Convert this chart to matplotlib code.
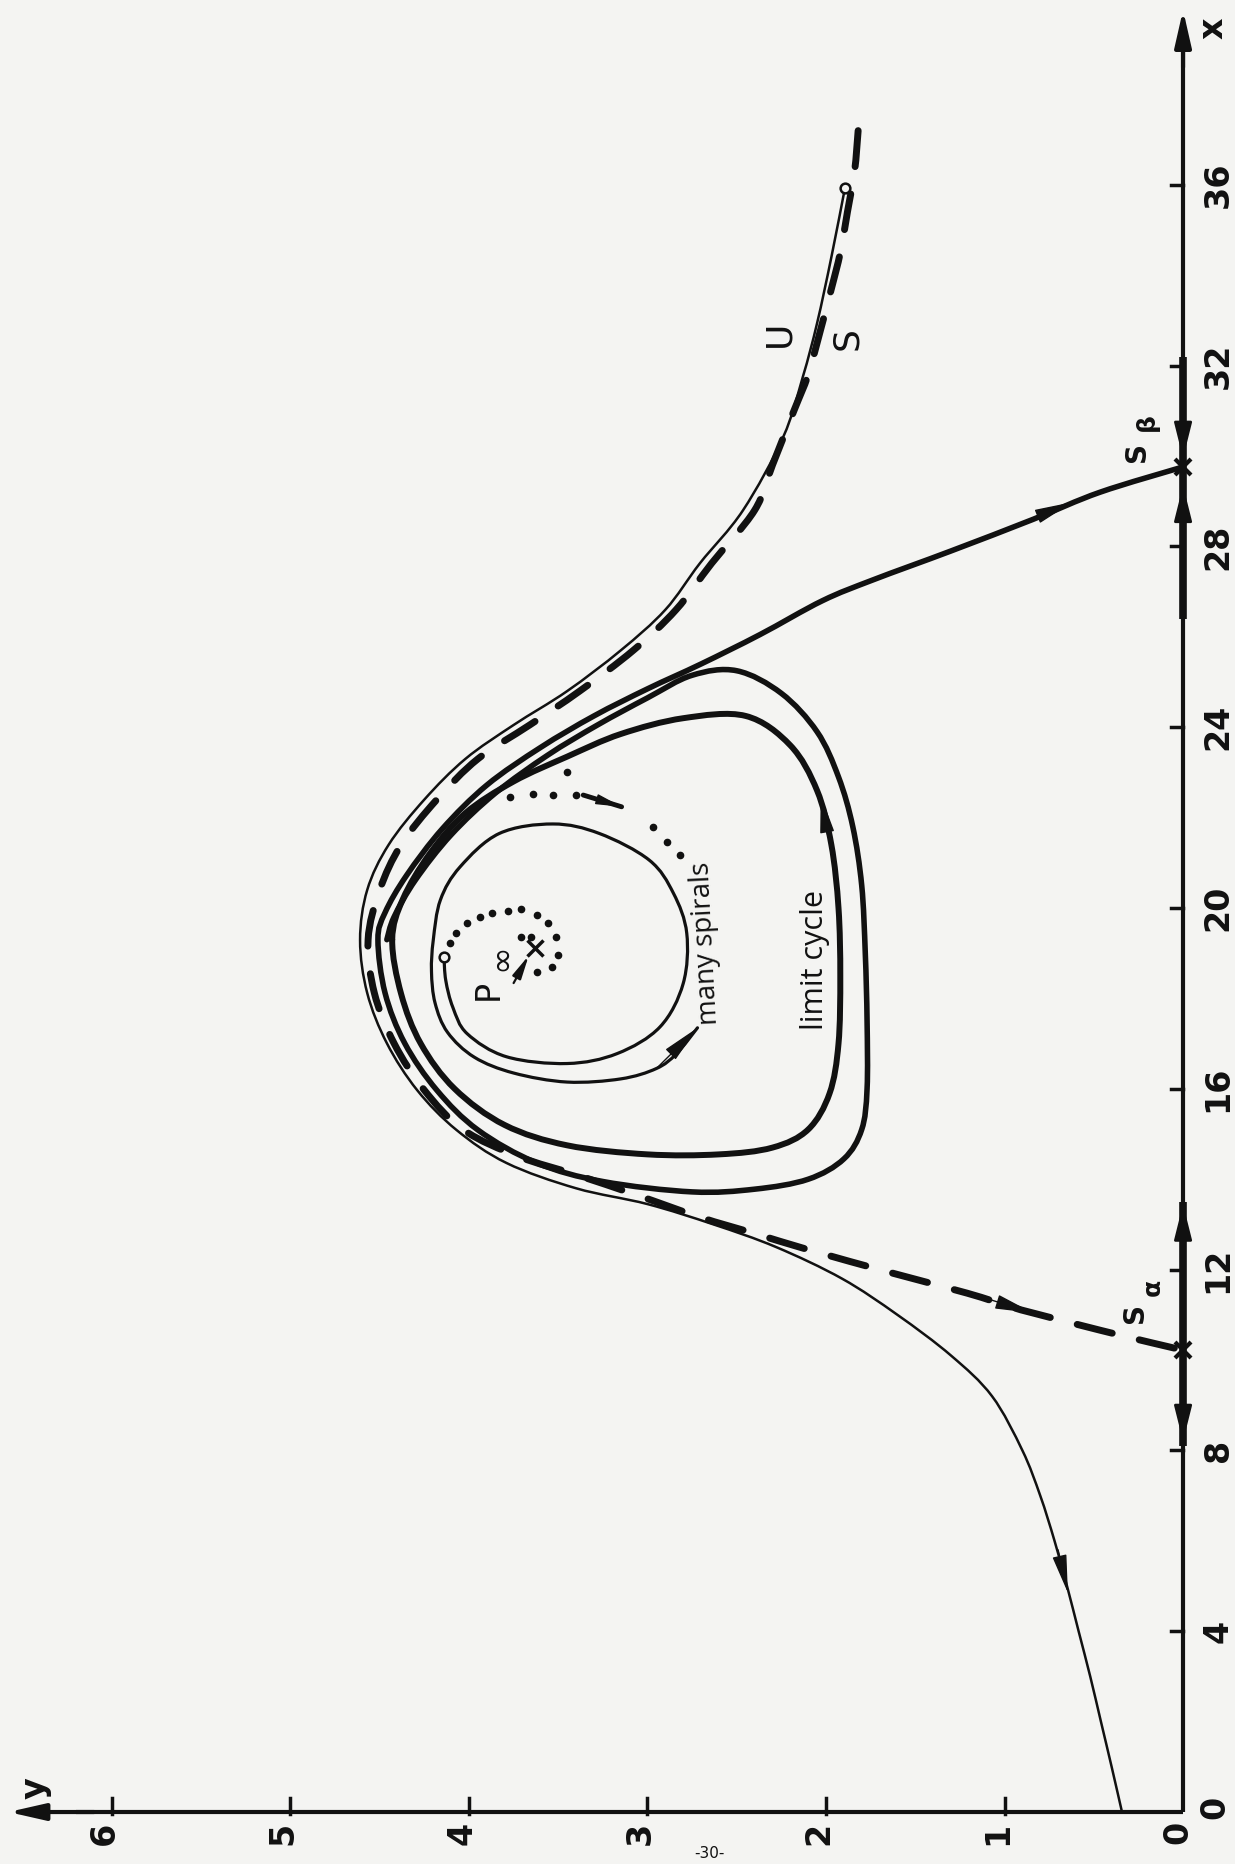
import numpy as np
import matplotlib
matplotlib.use("Agg")
import matplotlib.pyplot as plt
from matplotlib.patches import ArrowStyle, PathPatch
from matplotlib.path import Path

plt.rcParams['font.family'] = ['DejaVu Sans']
plt.rcParams['lines.scale_dashes'] = False

# ---------------- data (chart coordinates: x runs up the page, y runs to the left) ----------------
x_ticks = [4, 8, 12, 16, 20, 24, 28, 32, 36]
y_ticks = [1, 2, 3, 4, 5, 6]

# thin solid trajectory U (from the y-axis, round the hump, to the small circle)
u_y = [0.342, 0.40, 0.46, 0.52, 0.585, 0.65, 0.72, 0.80, 0.90, 1.07, 1.30, 1.60, 1.91, 2.28, 2.63,
       3.00, 3.40, 3.79, 4.07, 4.29, 4.46, 4.57, 4.61, 4.57, 4.45, 4.25, 4.02, 3.75, 3.45, 3.15,
       2.9, 2.706, 2.465, 2.24, 2.13, 2.05, 1.97, 1.894]
u_x = [0.0, 1.0, 2.0, 3.0, 4.0, 5.0, 6.0, 7.0, 8.0, 9.2, 10.1, 11.0, 11.8, 12.5, 13.0,
       13.45, 13.8, 14.36, 15.09, 15.97, 17.01, 18.12, 19.29, 20.4, 21.4, 22.4, 23.3, 24.05, 24.8, 25.7,
       26.6, 27.63, 28.8, 30.42, 31.75, 32.94, 34.4, 35.93]

# dashed separatrix S (ends at S_alpha)
s_y = [1.82, 1.84, 1.88, 1.92, 1.97, 2.03, 2.10, 2.18, 2.30, 2.40, 2.64, 2.84, 3.08, 3.38, 3.66,
       3.95, 4.18, 4.38, 4.50, 4.565, 4.53, 4.42, 4.25, 4.03, 3.72, 3.40, 3.06, 2.706, 2.40,
       2.09, 1.625, 1.21, 0.958, 0.84, 0.465, 0.174, 0.0]
s_x = [37.2, 36.3, 35.4, 34.5, 33.7, 32.8, 31.8, 31.0, 29.8, 28.8, 27.63, 26.6, 25.7, 24.8, 24.05,
       23.3, 22.4, 21.4, 20.4, 19.3, 18.12, 17.01, 15.97, 15.09, 14.5, 14.1, 13.65, 13.16, 12.8,
       12.43, 11.92, 11.48, 11.17, 11.04, 10.66, 10.38, 10.22]

# thick trajectory leaving S_beta and winding onto the limit cycle from outside
b_y = [0.0, 0.465, 0.84, 1.30, 1.737, 2.02, 2.37, 2.70, 3.00, 3.30, 3.60, 3.90, 4.15, 4.35, 4.47,
       4.51, 4.47, 4.36, 4.18, 3.95, 3.62, 3.25, 2.75, 2.40, 2.10, 1.90, 1.80, 1.77, 1.77, 1.78, 1.80,
       1.85, 1.93, 2.05, 2.25, 2.50, 2.75, 3.00, 3.28, 3.56, 3.85, 4.10, 4.30, 4.42, 4.46]
b_x = [29.76, 29.2, 28.6, 27.9, 27.26, 26.8, 26.05, 25.4, 24.85, 24.25, 23.55, 22.72, 21.75, 20.72, 19.9,
       19.3, 18.12, 17.01, 15.97, 15.09, 14.36, 13.95, 13.72, 13.78, 14.0, 14.45, 15.1, 16.0, 17.5, 19.0, 20.5,
       21.8, 22.9, 23.9, 24.75, 25.25, 25.15, 24.65, 24.05, 23.38, 22.55, 21.62, 20.62, 19.8, 19.3]

# limit cycle (thick, closed)
lc_y = [4.43, 4.38, 4.27, 4.08, 3.80, 3.45, 3.00, 2.60, 2.30, 2.10, 1.98, 1.93, 1.92, 1.93, 1.97,
        2.05, 2.20, 2.45, 2.80, 3.15, 3.45, 3.75, 4.02, 4.22, 4.37, 4.43]
lc_x = [19.3, 18.1, 17.0, 16.0, 15.2, 14.75, 14.55, 14.55, 14.7, 15.1, 15.9, 17.0, 18.5, 20.0, 21.4,
        22.6, 23.6, 24.25, 24.2, 23.85, 23.35, 22.8, 22.1, 21.2, 20.2, 19.3]

# thin spiral from the small circle near P
sp_y = [4.14, 4.13, 4.09, 4.01, 3.79, 3.45, 3.17, 2.93, 2.80, 2.78, 2.855, 2.99, 3.27, 3.53, 3.83,
        4.05, 4.16, 4.20, 4.21, 4.19, 4.12, 3.97, 3.75, 3.45, 3.15, 2.95, 2.837, 2.72]
sp_x = [18.92, 18.4, 17.8, 17.22, 16.71, 16.56, 16.78, 17.37, 18.33, 19.44, 20.33, 21.06, 21.65, 21.86,
        21.65, 20.91, 20.18, 19.29, 18.6, 17.9, 17.25, 16.7, 16.35, 16.15, 16.22, 16.45, 16.78, 17.35]

# dotted "many spirals" hint
md_y = [3.77, 3.64, 3.53, 3.40, 3.45, 2.97, 2.89, 2.82]
md_x = [22.46, 22.53, 22.5, 22.5, 23.0, 21.8, 21.47, 21.17]
md_arrow = ((3.36, 22.5), (3.145, 22.24))

# small dotted spiral around the fixed point P
pd_y = [4.106, 4.07, 4.01, 3.94, 3.87, 3.78, 3.71, 3.62, 3.56, 3.51, 3.50, 3.535, 3.62, 3.71, 3.65]
pd_x = [19.22, 19.45, 19.67, 19.8, 19.89, 19.93, 19.98, 19.85, 19.67, 19.36, 18.96, 18.7, 18.58, 19.36, 19.36]
p_point = (3.63, 19.12)
p_arrow = ((3.75, 18.34), (3.665, 18.95))

# saddles on the x-axis and the thick stretches with arrows
s_alpha_x = 10.22
s_beta_x = 29.76
axis_thick = [(8.1, 13.5), (26.4, 32.2)]
axis_arrows = [(9.2, 8.2), (12.4, 13.45), (31.0, 29.95), (28.3, 29.35)]

# arrows on curves: (tail, tip) in (y, x)
curve_arrows = [((0.70, 5.8), (0.645, 4.85)),
                ((1.10, 11.36), (0.84, 11.04)),
                ((0.98, 28.4), (0.62, 28.98)),
                ((1.99, 21.6), (2.03, 22.5)),
                ((2.95, 16.45), (2.72, 17.35))]

ink = '#111111'
bg = '#f4f4f2'

fig = plt.figure(figsize=(12.35, 18.64), dpi=100, facecolor=bg)
ax = fig.add_axes([0, 0, 1, 1])
ax.set_facecolor(bg)
ax.axis('off')
ax.set_xlim(6.627, -0.291)
ax.set_ylim(-1.150, 40.09)


def smooth(ys, xs, closed=False):
    """Smooth cubic Bezier path through the read points (drawn by matplotlib)."""
    p = np.column_stack([ys, xs]).astype(float)
    n = len(p)
    verts = [p[0]]
    codes = [Path.MOVETO]
    for i in range(n - 1):
        p0 = p[i - 1] if i > 0 else (p[-2] if closed else p[i])
        p1, p2 = p[i], p[i + 1]
        p3 = p[i + 2] if i + 2 < n else (p[1] if closed else p[i + 1])
        verts += [p1 + (p2 - p0) / 6.0, p2 - (p3 - p1) / 6.0, p2]
        codes += [Path.CURVE4] * 3
    return Path(verts, codes)


def draw(ys, xs, lw, closed=False, dashes=None):
    patch = PathPatch(smooth(ys, xs, closed), fill=False, edgecolor=ink, lw=lw,
                      joinstyle='round', capstyle='round')
    if dashes is not None:
        patch.set_linestyle((0, dashes))
    ax.add_patch(patch)


def head(tail, tip, ms=10, hl=2.4, hw=0.45, lw=1.0):
    ax.annotate('', xy=tip, xytext=tail,
                arrowprops=dict(arrowstyle=ArrowStyle('-|>', head_length=hl, head_width=hw),
                                color=ink, lw=lw, shrinkA=0, shrinkB=0, mutation_scale=ms))


# axes
ax.plot([0, 0], [0, 39.2], color=ink, lw=3, solid_capstyle='butt')
ax.plot([0, 6.2], [0, 0], color=ink, lw=3, solid_capstyle='butt')
head((0, 38.6), (0, 39.87), ms=10, hl=2.2, hw=0.5, lw=3)
head((6.1, 0), (6.58, 0), ms=10, hl=2.2, hw=0.5, lw=3)
for t in x_ticks:
    ax.plot([0, 0.07], [t, t], color=ink, lw=2.5)
    ax.text(-0.196, t, str(t), rotation=90, ha='center', va='center', fontsize=24,
            fontweight='bold', color=ink)
for t in y_ticks:
    ax.plot([t, t], [-0.05, 0.3], color=ink, lw=2.5)
    ax.text(t + 0.04, -0.47, str(t), rotation=90, ha='center', va='center', fontsize=24,
            fontweight='bold', color=ink)
ax.text(-0.18, 0.11, '0', rotation=90, ha='center', va='center', fontsize=24, fontweight='bold', color=ink)
ax.text(0.03, -0.44, '0', rotation=90, ha='center', va='center', fontsize=24, fontweight='bold', color=ink)
ax.text(-0.17, 39.47, 'x', rotation=90, ha='center', va='center', fontsize=24, fontweight='bold', color=ink)
ax.text(6.43, 0.52, 'y', rotation=90, ha='center', va='center', fontsize=24, fontweight='bold', color=ink)

# thick stretches of the x-axis with arrowheads
for lo, hi in axis_thick:
    ax.plot([0, 0], [lo, hi], color=ink, lw=5.5, solid_capstyle='butt')
for a, b in axis_arrows:
    head((0, a), (0, b), ms=10, hl=2.2, hw=0.55, lw=2)
ax.plot([0, 0], [s_alpha_x, s_beta_x], ls='none', marker='x', ms=11, mew=3, color=ink)

# curves
draw(b_y, b_x, 4.0)
draw(lc_y, lc_x, 4.3, closed=True)
draw(u_y, u_x, 1.8)
draw(s_y, s_x, 5.0, dashes=(26, 20))
draw(sp_y, sp_x, 2.3)
ax.plot(md_y, md_x, ls='none', marker='o', ms=4.5, color=ink)
ax.plot(pd_y, pd_x, ls='none', marker='o', ms=4.5, color=ink)
ax.plot([md_arrow[0][0], md_arrow[1][0]], [md_arrow[0][1], md_arrow[1][1]], color=ink, lw=3.5,
        solid_capstyle='round')
head(md_arrow[0], md_arrow[1], ms=8, hl=2.0, hw=0.4)

for tail, tip in curve_arrows:
    head(tail, tip, ms=10, hl=2.4, hw=0.45)

# start / end circles
ax.plot([sp_y[0], u_y[-1]], [sp_x[0], u_x[-1]], ls='none', marker='o', ms=7, mfc=bg, mec=ink, mew=1.8)

# fixed point P
ax.plot([p_point[0]], [p_point[1]], ls='none', marker='x', ms=11, mew=2.5, color=ink)
head(p_arrow[0], p_arrow[1], ms=7, hl=2.0, hw=0.4, lw=1.6)
ax.text(3.89, 18.19, 'P', rotation=90, ha='center', va='center', fontsize=24, color=ink)
ax.text(3.82, 18.92, '∞', rotation=90, ha='center', va='center', fontsize=24, color=ink)

# labels
ax.text(2.675, 19.23, 'many spirals', rotation=93, ha='center', va='center', fontsize=20,
        family=['Open Sans', 'DejaVu Sans'], color=ink)
ax.text(2.06, 18.85, 'limit cycle', rotation=90, ha='center', va='center', fontsize=22,
        family=['Open Sans', 'DejaVu Sans'], color=ink)
ax.text(2.26, 32.7, 'U', rotation=90, ha='center', va='center', fontsize=26, color=ink)
ax.text(1.88, 32.6, 'S', rotation=90, ha='center', va='center', fontsize=26, color=ink)
ax.text(0.26, 30.1, 'S', rotation=90, ha='center', va='center', fontsize=20, fontweight='bold', color=ink)
ax.text(0.2, 30.75, 'β', rotation=90, ha='center', va='center', fontsize=18, fontweight='bold', color=ink)
ax.text(0.27, 11.05, 'S', rotation=90, ha='center', va='center', fontsize=20, fontweight='bold', color=ink)
ax.text(0.17, 11.6, 'α', rotation=90, ha='center', va='center', fontsize=18, fontweight='bold', color=ink)
ax.text(2.655, -0.92, '-30-', ha='center', va='center', fontsize=11, color=ink)

fig.savefig('out.png', dpi=100, facecolor=bg)
